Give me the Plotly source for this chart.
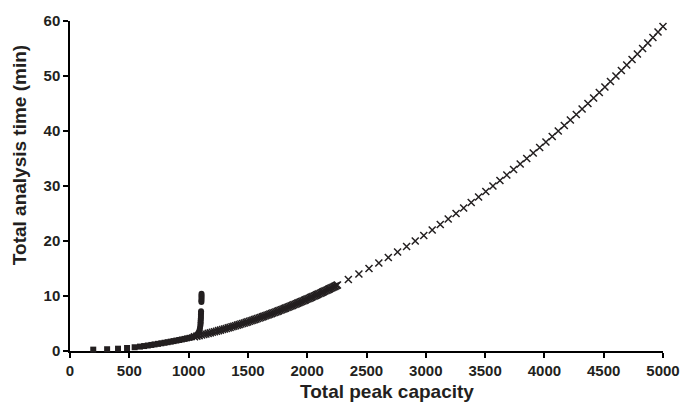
import plotly.graph_objects as go

# Series 1: squares (low peak capacity region)
sq_x = [196, 313, 405, 481, 545, 590, 625, 656, 686, 713, 742, 770, 797, 823, 849,
        873, 897, 921, 943, 966, 987, 1008, 1029]
sq_y = [0.25, 0.32, 0.42, 0.55, 0.68, 0.8, 0.9, 1.0, 1.1, 1.2, 1.3, 1.4, 1.5, 1.6,
        1.7, 1.8, 1.9, 2.0, 2.1, 2.2, 2.3, 2.4, 2.5]

# Series 2: circles (steep rise near 1100)
ci_x = [1040, 1060, 1075, 1085, 1092, 1096, 1099, 1101,
        1101, 1102, 1103, 1104, 1104, 1105, 1105,
        1108, 1108, 1109, 1109, 1109, 1109]
ci_y = [2.6, 2.8, 3.1, 3.4, 3.8, 4.2, 4.6, 4.95,
        5.25, 5.6, 5.9, 6.25, 6.6, 6.9, 7.25,
        8.9, 9.2, 9.5, 9.8, 10.1, 10.4]

# Series 3: crosses (dense part, then sparse part)
cr_x = [1050, 1070, 1089, 1109, 1128, 1146, 1165, 1183, 1200, 1218, 1235, 1252, 1269, 1286,
        1302, 1318, 1334, 1350, 1366, 1381, 1396, 1411, 1426, 1441, 1456, 1470, 1485, 1499,
        1513, 1527, 1541, 1554, 1568, 1581, 1595, 1608, 1621, 1634, 1647, 1660, 1672, 1685,
        1698, 1710, 1722, 1735, 1747, 1759, 1771, 1783, 1795, 1806, 1818, 1830, 1841, 1853,
        1864, 1876, 1887, 1898, 1909, 1920, 1931, 1942, 1953, 1964, 1975, 1985, 1996, 2007,
        2017, 2028, 2038, 2048, 2059, 2069, 2079, 2089, 2099, 2110, 2120, 2129, 2139, 2149,
        2159, 2169, 2179, 2188, 2198, 2208, 2217, 2227, 2236, 2246, 2255,
        2347, 2436, 2521, 2604, 2684, 2762, 2838, 2911, 2983, 3054, 3122, 3189, 3255, 3319,
        3383, 3445, 3506, 3566, 3625, 3683, 3740, 3796, 3851, 3906, 3960, 4013, 4066, 4117,
        4168, 4219, 4269, 4318, 4367, 4415, 4463, 4510, 4557, 4603, 4649, 4694, 4739, 4784,
        4828, 4872, 4915, 4958, 5000]
cr_y = [2.6, 2.7, 2.8, 2.9, 3.0, 3.1, 3.2, 3.3, 3.4, 3.5, 3.6, 3.7, 3.8, 3.9,
        4.0, 4.1, 4.2, 4.3, 4.4, 4.5, 4.6, 4.7, 4.8, 4.9, 5.0, 5.1, 5.2, 5.3,
        5.4, 5.5, 5.6, 5.7, 5.8, 5.9, 6.0, 6.1, 6.2, 6.3, 6.4, 6.5, 6.6, 6.7,
        6.8, 6.9, 7.0, 7.1, 7.2, 7.3, 7.4, 7.5, 7.6, 7.7, 7.8, 7.9, 8.0, 8.1,
        8.2, 8.3, 8.4, 8.5, 8.6, 8.7, 8.8, 8.9, 9.0, 9.1, 9.2, 9.3, 9.4, 9.5,
        9.6, 9.7, 9.8, 9.9, 10.0, 10.1, 10.2, 10.3, 10.4, 10.5, 10.6, 10.7, 10.8, 10.9,
        11.0, 11.1, 11.2, 11.3, 11.4, 11.5, 11.6, 11.7, 11.8, 11.9, 12.0,
        13, 14, 15, 16, 17, 18, 19, 20, 21, 22, 23, 24, 25, 26,
        27, 28, 29, 30, 31, 32, 33, 34, 35, 36, 37, 38, 39, 40,
        41, 42, 43, 44, 45, 46, 47, 48, 49, 50, 51, 52, 53, 54,
        55, 56, 57, 58, 59]

x_ticks = [0, 500, 1000, 1500, 2000, 2500, 3000, 3500, 4000, 4500, 5000]
y_ticks = [0, 10, 20, 30, 40, 50, 60]
x_title = "Total peak capacity"
y_title = "Total analysis time (min)"

INK = "#231f20"
FONT = "Arial, Liberation Sans, sans-serif"

fig = go.Figure()
fig.add_trace(go.Scatter(
    x=cr_x, y=cr_y, mode="markers", cliponaxis=False,
    marker=dict(symbol="x-thin", size=7, line=dict(width=1.5, color=INK), color=INK)))
fig.add_trace(go.Scatter(
    x=sq_x, y=sq_y, mode="markers", cliponaxis=False,
    marker=dict(symbol="square", size=6, color=INK, line=dict(width=0))))
fig.add_trace(go.Scatter(
    x=ci_x, y=ci_y, mode="markers", cliponaxis=False,
    marker=dict(symbol="circle", size=6, color=INK, line=dict(width=0))))

axis_common = dict(
    showgrid=False, zeroline=False, showline=True, linecolor="black", linewidth=1.5,
    ticks="outside", ticklen=5, tickwidth=1.5, tickcolor="black",
    ticklabeloverflow="allow", automargin=False, layer="below traces",
    tickfont=dict(family=FONT, size=15, color=INK, weight="bold"),
)

fig.update_layout(
    width=681, height=403,
    margin=dict(l=70, r=18, t=21, b=52),
    paper_bgcolor="white", plot_bgcolor="white",
    showlegend=False,
    xaxis=dict(range=[0, 5000], tickvals=x_ticks, ticktext=[str(v) for v in x_ticks],
               **axis_common),
    yaxis=dict(range=[0, 60], tickvals=y_ticks, ticktext=[str(v) for v in y_ticks],
               **axis_common),
    annotations=[
        dict(text=x_title, xref="paper", yref="paper", x=0.535, y=-0.124,
             xanchor="center", yanchor="middle", showarrow=False,
             font=dict(family=FONT, size=19, color=INK, weight="bold")),
        dict(text=y_title, xref="paper", yref="paper", x=-0.084, y=0.594,
             xanchor="center", yanchor="middle", showarrow=False, textangle=-90,
             font=dict(family=FONT, size=19, color=INK, weight="bold")),
    ],
)

fig.write_html("out.html")
